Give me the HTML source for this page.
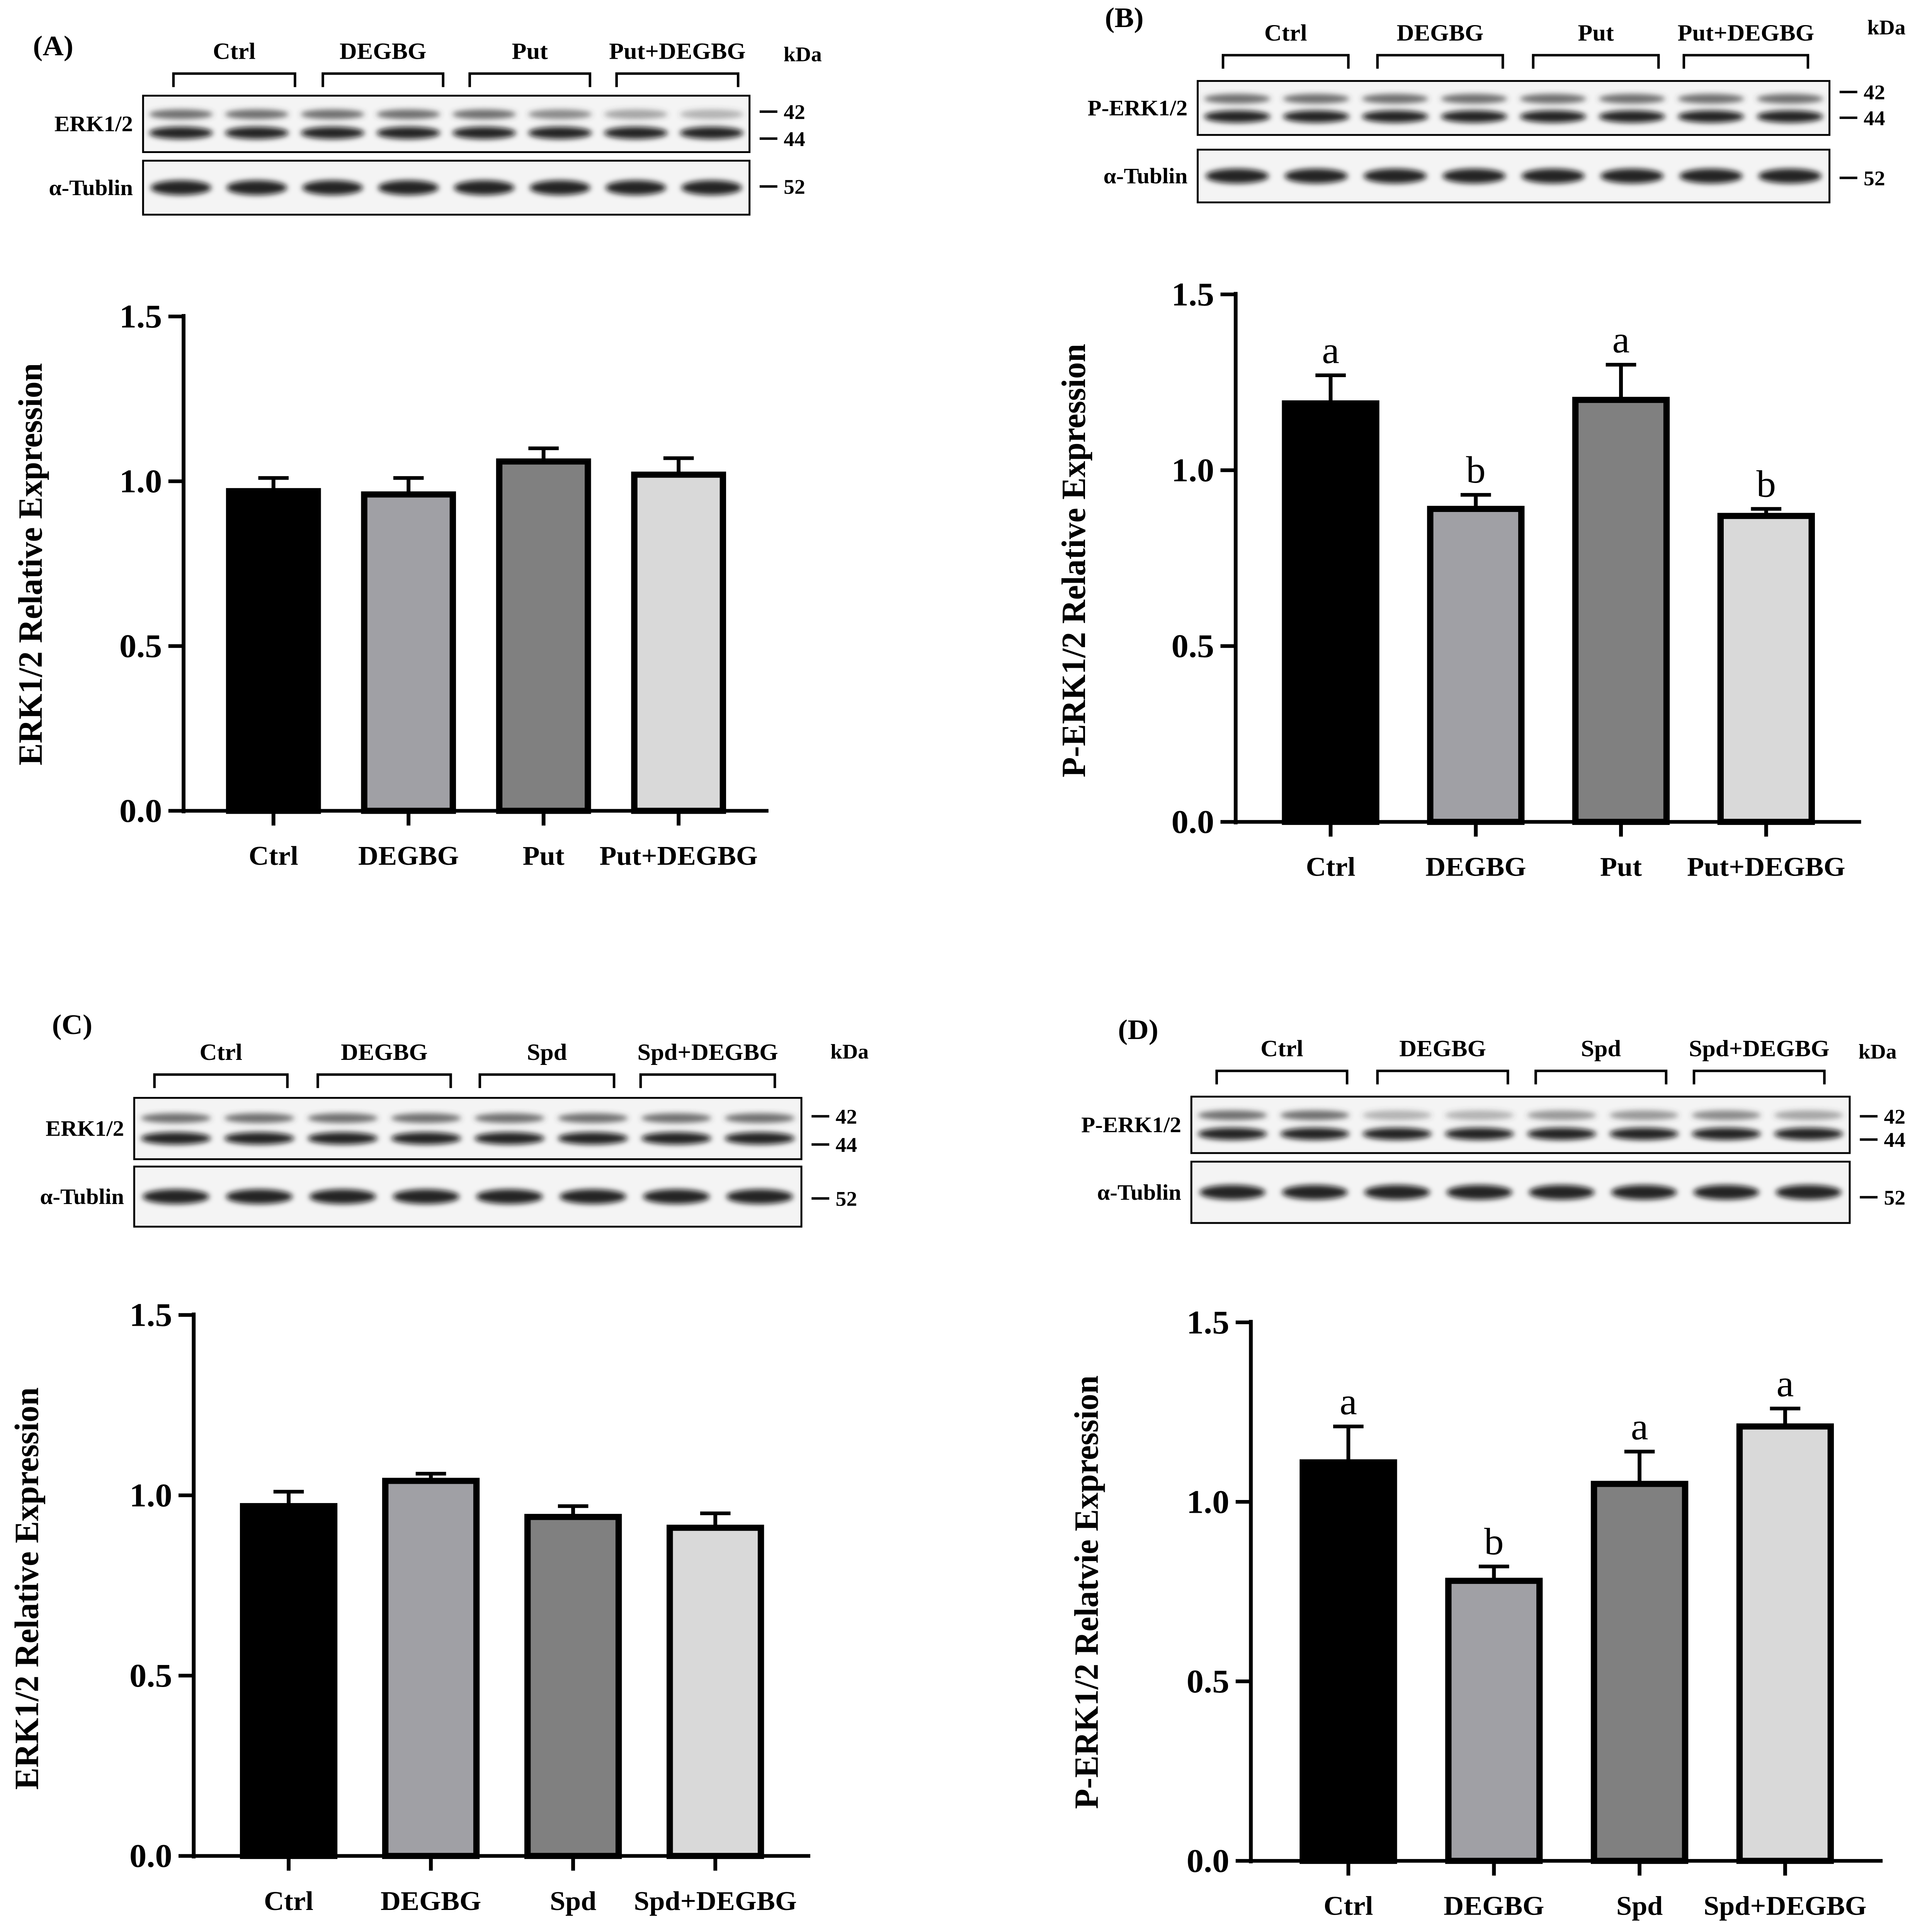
<!DOCTYPE html>
<html><head><meta charset="utf-8">
<style>
html,body{margin:0;padding:0;background:#fff;width:100%;height:100%;overflow:hidden}
svg{display:block;width:100vw;height:100vh}
text{font-family:"Liberation Serif",serif;font-weight:bold;fill:#000}
text.sig{font-weight:normal}
</style></head>
<body>
<svg id="fig" xmlns="http://www.w3.org/2000/svg" viewBox="0 0 1526 1575" preserveAspectRatio="none">
<defs>
<filter id="blur" x="-20%" y="-50%" width="140%" height="200%"><feGaussianBlur stdDeviation="2.2"/></filter>
</defs>
<g id="root"></g>
</svg>
<script>
// ---- chart data ----
const catsA = ["Ctrl","DEGBG","Put","Put+DEGBG"];
const valsA = [0.97,0.96,1.06,1.02];
const errA  = [0.04,0.05,0.04,0.05];
const lettersA = ["","","",""];
const catsB = ["Ctrl","DEGBG","Put","Put+DEGBG"];
const valsB = [1.19,0.89,1.20,0.87];
const errB  = [0.08,0.04,0.10,0.02];
const lettersB = ["a","b","a","b"];
const catsC = ["Ctrl","DEGBG","Spd","Spd+DEGBG"];
const valsC = [0.97,1.04,0.94,0.91];
const errC  = [0.04,0.02,0.03,0.04];
const lettersC = ["","","",""];
const catsD = ["Ctrl","DEGBG","Spd","Spd+DEGBG"];
const valsD = [1.11,0.78,1.05,1.21];
const errD  = [0.10,0.04,0.09,0.05];
const lettersD = ["a","b","a","a"];
const yTicks = [0,0.5,1.0,1.5];
const yTickLabels = ["0.0","0.5","1.0","1.5"];

const NS="http://www.w3.org/2000/svg";
const root=document.getElementById('root');
function mk(tag,attrs,parent){const e=document.createElementNS(NS,tag);for(const k in attrs)e.setAttribute(k,attrs[k]);(parent||root).appendChild(e);return e;}
function txt(x,y,s,size,anchor,parent,extra){const t=mk('text',Object.assign({x:x,y:y,'font-size':size,'text-anchor':anchor||'middle'},extra||{}),parent);t.textContent=s;return t;}
const fills=["#000000","#a0a0a5","#808080","#d9d9d9"];

function chart(cfg,cats,vals,errs,letters){
  const g=mk('g',{});
  
  
  const y=v=>cfg.y0-(cfg.y0-cfg.y15)*v/1.5;
  const ax=mk('g',{},g);
  
  
  mk('line',{x1:cfg.ax,y1:cfg.y15-2,x2:cfg.ax,y2:cfg.y0+2,stroke:'#000','stroke-width':3},ax);
  yTicks.forEach((t,i)=>{
    mk('line',{x1:cfg.ax-12,y1:y(t),x2:cfg.ax,y2:y(t),stroke:'#000','stroke-width':3},ax);
    txt(cfg.ax-17,y(t)+9,yTickLabels[i],27,'end',ax);
  });
  const xa=mk('line',{x1:cfg.ax,y1:cfg.y0,x2:cfg.xend,y2:cfg.y0,stroke:'#000','stroke-width':3},g);
  
  
  const tt=txt(0,0,cfg.title,27,'middle',g,{transform:`translate(${cfg.tx},${cfg.ty}) rotate(-90)`});
  
  
  const n=cats.length, step=(cfg.xend-cfg.ax-cfg.pad*2)/(n-1);
  cats.forEach((c,i)=>{
    const cx=cfg.ax+cfg.pad+i*step, w=cfg.bw;
    const b=mk('rect',{x:cx-w/2,y:y(vals[i]),width:w,height:y(0)-y(vals[i]),fill:fills[i],stroke:'#000','stroke-width':5},g);
    
    
    const top=y(vals[i]+errs[i]);
    mk('line',{x1:cx,y1:y(vals[i]),x2:cx,y2:top,stroke:'#000','stroke-width':3},g);
    mk('line',{x1:cx-12,y1:top,x2:cx+12,y2:top,stroke:'#000','stroke-width':3},g);
    mk('line',{x1:cx,y1:cfg.y0,x2:cx,y2:cfg.y0+12,stroke:'#000','stroke-width':3},g);
    const lt=txt(cx,cfg.y0+44,c,22,'middle',g);
    
    
    if(letters[i]){const l=txt(cx,top-10,letters[i],31,'middle',g,{'class':'sig'});}
  });
}

function blot(cfg){
  const g=mk('g',{});
  
  
  const pl=txt(cfg.lx,cfg.ly,cfg.label,23,'middle',g);
  
  
  cfg.br.forEach((b,i)=>{
    mk('path',{d:`M${b[0]},${cfg.bry+11} V${cfg.bry} H${b[1]} V${cfg.bry+11}`,fill:'none',stroke:'#000','stroke-width':2},g);
    txt((b[0]+b[1])/2,cfg.bry-12,cfg.groups[i],19,'middle',g);
  });
  txt(cfg.kx,cfg.ky,'kDa',17,'middle',g);
  const boxes=[[cfg.b1y,cfg.b1h,cfg.n1,true],[cfg.b2y,cfg.b2h,'α-Tublin',false]];
  boxes.forEach(bx=>{
    const [by,bh,name,dbl]=bx;
    mk('rect',{x:cfg.x0,y:by,width:cfg.x1-cfg.x0,height:bh,fill:'#f4f4f4',stroke:'#000','stroke-width':1.5},g);
    txt(cfg.x0-8,by+bh/2+6,name,18,'end',g);
    const lw=(cfg.x1-cfg.x0)/8;
    for(let i=0;i<8;i++){
      const cx=cfg.x0+lw*(i+0.5);
      const k=cfg.ints?cfg.ints[i]:1;
      if(dbl){
        mk('ellipse',{cx:cx,cy:by+bh*0.33,rx:lw*0.42,ry:4,fill:'#444','fill-opacity':0.75*k,filter:'url(#blur)'},g);
        mk('ellipse',{cx:cx,cy:by+bh*0.66,rx:lw*0.42,ry:5,fill:'#111','fill-opacity':0.9,filter:'url(#blur)'},g);
      } else {
        mk('ellipse',{cx:cx,cy:by+bh/2,rx:lw*0.4,ry:6,fill:'#111','fill-opacity':0.9,filter:'url(#blur)'},g);
      }
    }
  });
  cfg.marks.forEach(m=>{
    mk('line',{x1:cfg.x1+8,y1:m[0],x2:cfg.x1+22,y2:m[0],stroke:'#000','stroke-width':2},g);
    txt(cfg.x1+27,m[0]+6,m[1],17,'start',g);
  });
}

blot({name:'blot-a',label:'(A)',lx:42,ly:45,groups:catsA,bry:60,br:[[137,233],[255,350],[371,466],[487,583]],kx:634,ky:50,
  x0:113,x1:592,b1y:78,b1h:46,n1:'ERK1/2',b2y:131,b2h:44,marks:[[91,'42'],[113,'44'],[152,'52']],ints:[1,1,1,1,1,0.8,0.6,0.5]});
blot({name:'blot-b',label:'(B)',lx:888,ly:22,groups:catsB,bry:45,br:[[966,1065],[1088,1187],[1211,1310],[1330,1428]],kx:1490,ky:28,
  x0:946,x1:1445,b1y:66,b1h:44,n1:'P-ERK1/2',b2y:122,b2h:43,marks:[[75,'42'],[96,'44'],[145,'52']]});
blot({name:'blot-c',label:'(C)',lx:57,ly:843,groups:catsC,bry:876,br:[[122,227],[251,356],[379,485],[506,612]],kx:671,ky:863,
  x0:106,x1:633,b1y:895,b1h:50,n1:'ERK1/2',b2y:951,b2h:49,marks:[[910,'42'],[933,'44'],[977,'52']]});
blot({name:'blot-d',label:'(D)',lx:899,ly:847,groups:catsD,bry:873,br:[[961,1064],[1088,1191],[1213,1316],[1338,1441]],kx:1483,ky:863,
  x0:941,x1:1461,b1y:894,b1h:46,n1:'P-ERK1/2',b2y:947,b2h:50,marks:[[910,'42'],[929,'44'],[976,'52']],ints:[1,1,0.5,0.5,0.7,0.7,0.8,0.6]});

chart({name:'chart-a',ax:145,xend:607,y0:661,y15:258,pad:71,bw:70,tx:33,ty:460,title:'ERK1/2 Relative Expression'},catsA,valsA,errA,lettersA);
chart({name:'chart-b',ax:976,xend:1470,y0:670,y15:240,pad:75,bw:72,tx:857,ty:457,title:'P-ERK1/2 Relative Expression'},catsB,valsB,errB,lettersB);
chart({name:'chart-c',ax:153,xend:640,y0:1513,y15:1072,pad:75,bw:72,tx:30,ty:1295,title:'ERK1/2 Relative Expression'},catsC,valsC,errC,lettersC);
chart({name:'chart-d',ax:988,xend:1487,y0:1517,y15:1078,pad:77,bw:72,tx:867,ty:1298,title:'P-ERK1/2 Relatvie Expression'},catsD,valsD,errD,lettersD);
</script>
</body></html>
